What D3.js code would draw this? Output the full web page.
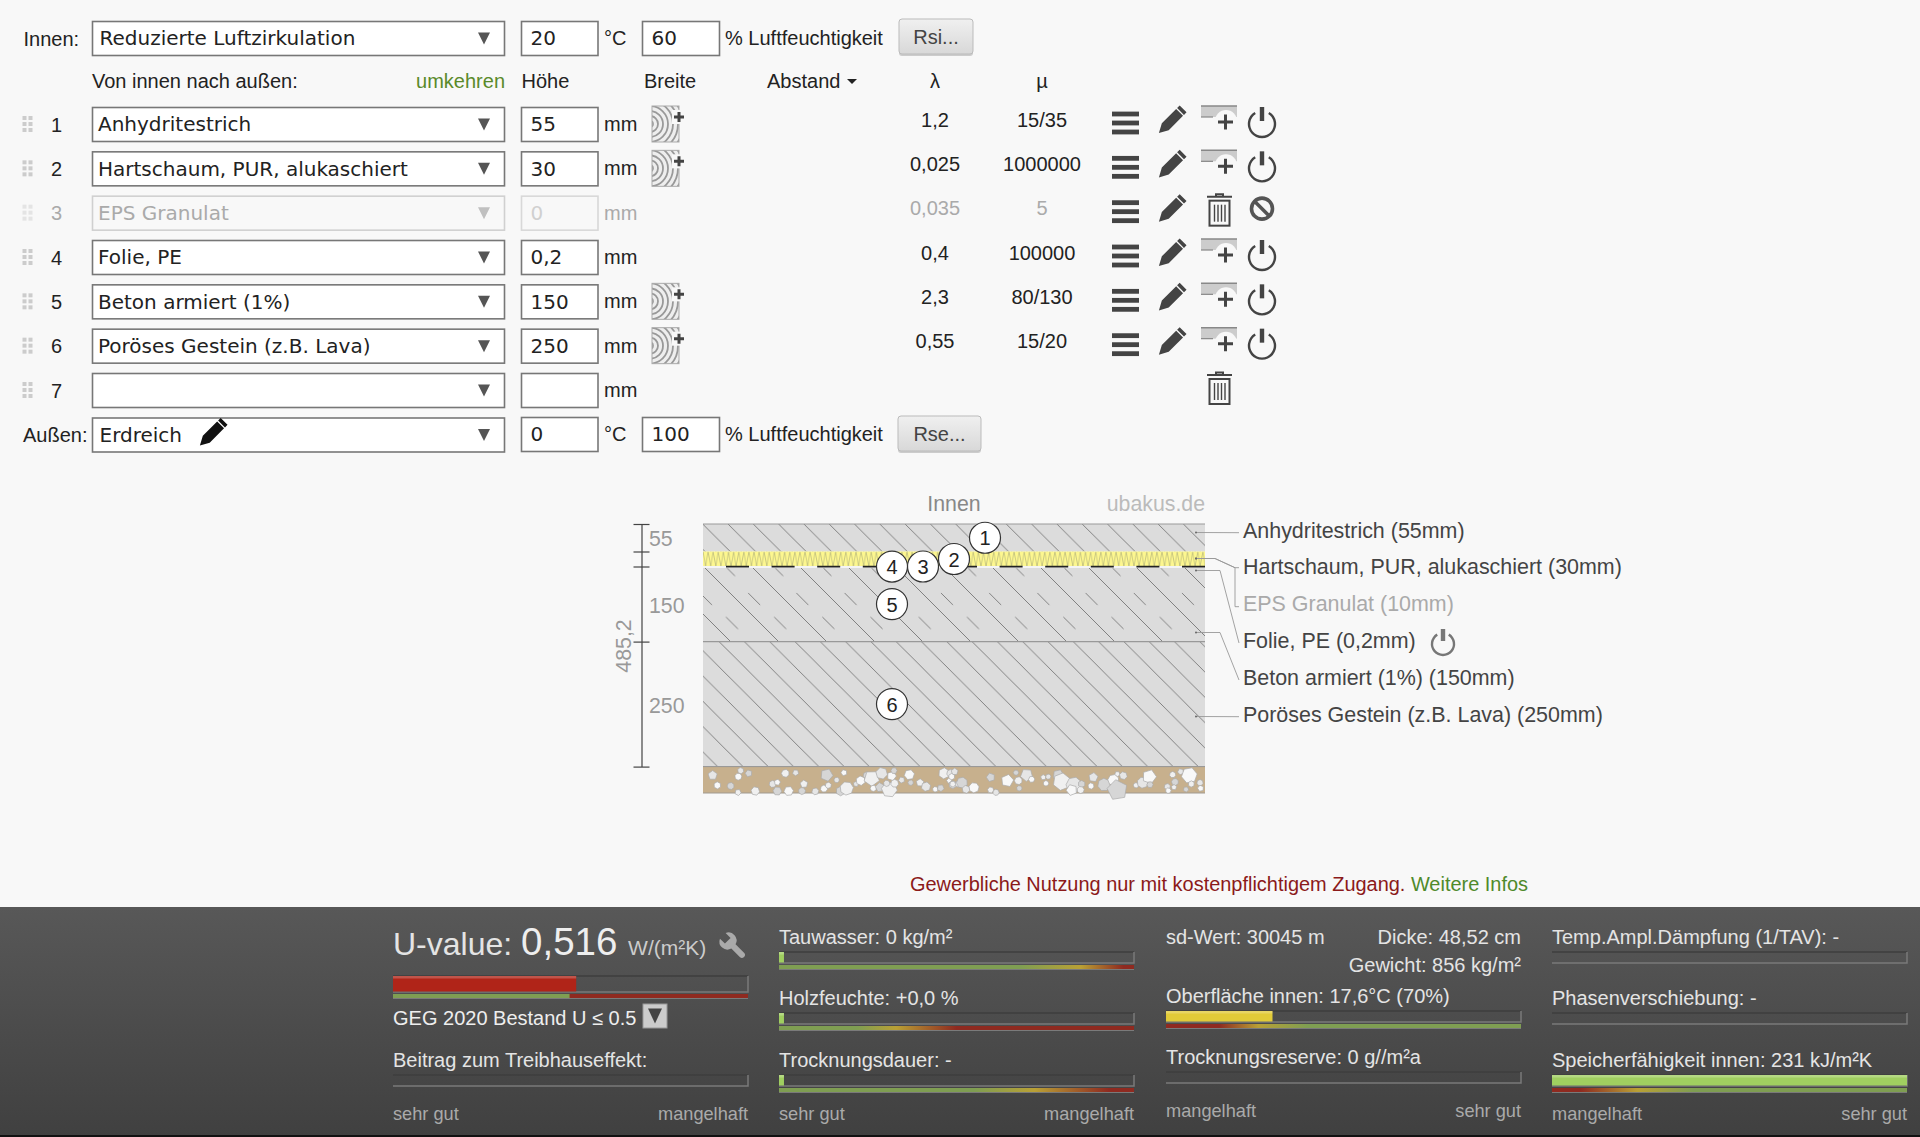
<!DOCTYPE html>
<html>
<head>
<meta charset="utf-8">
<script src="https://cdn.jsdelivr.net/npm/d3@7"></script>
<style>
body { margin: 0; background: #f8f8f8; }
text { font-family: "Liberation Sans", Arial, sans-serif; }
.sel { font-family: "DejaVu Sans", sans-serif; }
</style>
</head>
<body>
<div id="chart"></div>
<script>
// layer table
var layerNames = ["Anhydritestrich", "Hartschaum, PUR, alukaschiert", "EPS Granulat", "Folie, PE", "Beton armiert (1%)", "Poröses Gestein (z.B. Lava)", ""];
var layerInputs = ["55", "30", "0", "0,2", "150", "250", ""];
var layerLambda = ["1,2", "0,025", "0,035", "0,4", "2,3", "0,55", ""];
var layerMu = ["15/35", "1000000", "5", "100000", "80/130", "15/20", ""];
var layerDisabled = [false, false, true, false, false, false, false];
var layerHasTexture = [true, true, false, false, true, true, false];

// section drawing
var sectionMm = [55, 30, 0, 0.2, 150, 250];
var sectionTotal = 485.2;
var dimTicks = [0, 55, 85, 85.2, 235.2, 485.2];
var dimLabels = ["55", "150", "250"];
var dimLabelMm = [27.5, 160.2, 360.2];
var markerOffset = [1, 0, -1, -2, -2, -2];
var legendLabels = ["Anhydritestrich (55mm)", "Hartschaum, PUR, alukaschiert (30mm)", "EPS Granulat (10mm)", "Folie, PE (0,2mm)", "Beton armiert (1%) (150mm)", "Poröses Gestein (z.B. Lava) (250mm)"];
var leaderMm = [17, 69, 69, 93, 217, 385];
// gravel: [along, depth, size]
var gravelLeft = [[38,46,12],[52,76,9],[92,78,9],[114,97,8],[122,32,8],[115,50,9],[146,40,9],[166,93,11],[218,72,9],[232,67,8],[232,93,11],[256,40,10],[287,38,8],[266,93,12],[306,93,9],[312,72,10],[346,94,9],[372,86,9],[380,45,16],[385,76,8],[410,60,7],[432,38,8],[422,93,12],[440,85,17],[468,72,7],[482,62,12],[500,46,9],[515,55,20],[545,40,15],[520,85,8],[540,82,12],[568,88,20],[560,70,8],[575,48,12],[582,32,8],[584,70,10],[605,60,8],[628,44,13],[632,68,7],[660,68,10],[678,80,12],[706,88,7],[722,84,9],[732,40,14],[752,40,10],[748,62,7],[758,74,10],[775,72,8]];
var gravelRight = [[14,35,9],[5,50,8],[36,68,14],[8,72,8],[48,88,10],[72,83,13],[122,52,11],[122,90,8],[138,97,8],[172,62,16],[198,38,7],[205,62,10],[230,45,16],[245,58,8],[208,85,7],[280,52,7],[295,50,7],[288,70,7],[325,45,14],[335,65,22],[372,75,20],[365,90,14],[395,72,9],[392,90,9],[430,52,12],[423,78,8],[462,74,16],[502,42,7],[520,47,10],[490,60,14],[502,90,26],[558,76,7],[578,68,14],[598,50,18],[600,74,8],[668,44,8],[692,35,8],[718,46,20],[675,66,9],[672,82,7],[652,80,8],[655,92,7],[708,88,7],[724,72,8],[750,68,8],[752,85,8]];

// rating bars
var ratingValues = [0.516, null, 0.014, 0.014, 0.014, 0.30, null, null, null, 1.0];
var ratingColors = ["#b02418", null, "#a0cf60", "#a0cf60", "#a0cf60", "#e2cb38", null, null, null, "#a0cf60"];
var ratingStops = [
  [[0, "g"], [0.495, "g"], [0.5, "r"], [1, "r"]],
  null,
  [[0, "g"], [0.68, "g"], [0.85, "y"], [0.97, "r"], [1, "r"]],
  [[0, "g"], [0.22, "g"], [0.33, "y"], [0.5, "r"], [1, "r"]],
  [[0, "g"], [0.55, "g"], [0.72, "y"], [0.93, "r"], [1, "r"]],
  [[0, "r"], [0.15, "r"], [0.26, "y"], [0.4, "g"], [1, "g"]],
  null,
  null,
  null,
  [[0, "r"], [0.08, "r"], [0.24, "y"], [0.4, "g"], [1, "g"]]
];
var ratingLabels = ["", "Beitrag zum Treibhauseffekt:", "Tauwasser: 0 kg/m²", "Holzfeuchte: +0,0 %", "Trocknungsdauer: -", "Oberfläche innen: 17,6°C (70%)", "Trocknungsreserve: 0 g//m²a", "Temp.Ampl.Dämpfung (1/TAV): -", "Phasenverschiebung: -", "Speicherfähigkeit innen: 231 kJ/m²K"];
var ratingCol = [0, 0, 1, 1, 1, 2, 2, 3, 3, 3];
var ratingTop = [976, 1075, 952, 1013, 1075, 1011, 1072, 952, 1013, 1075];

var svg = d3.select("#chart").append("svg").attr("width", 1920).attr("height", 1137);
var defs = svg.append("defs");
svg.append("rect").attr("width", 1920).attr("height", 1137).attr("fill", "#f8f8f8");

var rowY = d3.scalePoint().domain(d3.range(7)).range([124, 390]);

function label(g, x, y, txt, size, color, anchor) {
  return g.append("text").attr("x", x).attr("y", y).attr("dy", "0.35em")
    .attr("font-size", size).attr("fill", color).attr("text-anchor", anchor || "start").text(txt);
}

function arrow(g, cx, cy, w, h, color) {
  g.append("path").attr("d", `M${cx - w / 2},${cy - h / 2}H${cx + w / 2}L${cx},${cy + h / 2}Z`).attr("fill", color);
}

function selectBox(g, y, txt, xText, off) {
  g.append("rect").attr("x", 92.5).attr("y", y - 16.5).attr("width", 412).attr("height", 34)
    .attr("fill", off ? "#f8f8f8" : "#fff").attr("stroke", off ? "#d0d0d0" : "#777").attr("stroke-width", 1.6);
  g.append("text").attr("class", "sel").attr("x", xText).attr("y", y).attr("dy", "0.37em")
    .attr("font-size", 20).attr("fill", off ? "#aaa" : "#222").text(txt);
  arrow(g, 484, y + 0.5, 12, 12, off ? "#c0c0c0" : "#555");
}

function inputBox(g, x, w, y, txt, off) {
  g.append("rect").attr("x", x).attr("y", y - 16.5).attr("width", w).attr("height", 34)
    .attr("fill", off ? "#f8f8f8" : "#fff").attr("stroke", off ? "#d8d8d8" : "#777").attr("stroke-width", 1.6);
  g.append("text").attr("class", "sel").attr("x", x + 9).attr("y", y).attr("dy", "0.37em")
    .attr("font-size", 20).attr("fill", off ? "#d0d0d0" : "#222").text(txt);
}

function button(g, x, y, w, h, txt) {
  g.append("rect").attr("x", x).attr("y", y + 2).attr("width", w).attr("height", h).attr("rx", 3).attr("fill", "#ccc");
  g.append("rect").attr("x", x).attr("y", y).attr("width", w).attr("height", h).attr("rx", 3)
    .attr("fill", "url(#btnGrad)").attr("stroke", "#bbb");
  label(g, x + w / 2, y + h / 2, txt, 20, "#444", "middle");
}

function hamburger(g, y) {
  [-9, 0, 9].forEach(function(d) {
    g.append("rect").attr("x", 1112).attr("y", y + d - 2.4).attr("width", 27).attr("height", 4.8).attr("fill", "#444");
  });
}

function pencil(g, x, y, color, k) {
  g.append("path")
    .attr("transform", `translate(${x},${y}) rotate(45) scale(${k * 1.2},${k})`)
    .attr("d", "M-4.5,-19 h9 v4 h-9z M-4.5,-13.5 h9 V9 L0,19 L-4.5,9z")
    .attr("fill", color);
}

function power(g, cx, cy, r, color) {
  g.append("path")
    .attr("d", d3.arc()({ innerRadius: r - 1.2, outerRadius: r + 1.2, startAngle: 0.55, endAngle: 2 * Math.PI - 0.55 }))
    .attr("transform", `translate(${cx},${cy})`).attr("fill", color);
  g.append("rect").attr("x", cx - 2.2).attr("y", cy - r - 4).attr("width", 4.4).attr("height", r + 1).attr("fill", color);
}

function addLayer(g, y) {
  g.append("rect").attr("x", 1201).attr("y", y - 18).attr("width", 36).attr("height", 11).attr("fill", "#ccc");
  g.append("line").attr("x1", 1201).attr("x2", 1237).attr("y1", y - 18).attr("y2", y - 18).attr("stroke", "#888").attr("stroke-width", 1.5);
  g.append("line").attr("x1", 1201).attr("x2", 1213).attr("y1", y - 7).attr("y2", y - 7).attr("stroke", "#888").attr("stroke-width", 1.2);
  g.append("circle").attr("cx", 1226).attr("cy", y - 3).attr("r", 11).attr("fill", "#f8f8f8");
  g.append("path").attr("d", `M1218,${y - 2}h15M1225.5,${y - 9.5}v15`).attr("stroke", "#444").attr("stroke-width", 3).attr("fill", "none");
}

function trash(g, y) {
  g.append("path").attr("d", `M1207,${y - 13}h25M1216,${y - 13}v-2.5h7v2.5`).attr("stroke", "#444").attr("stroke-width", 2).attr("fill", "none");
  g.append("rect").attr("x", 1209.5).attr("y", y - 9).attr("width", 20).attr("height", 25).attr("fill", "none").attr("stroke", "#444").attr("stroke-width", 2);
  [1214.5, 1218, 1221.5, 1225].forEach(function(x) {
    g.append("line").attr("x1", x).attr("x2", x).attr("y1", y - 5).attr("y2", y + 12).attr("stroke", "#444").attr("stroke-width", 1.4);
  });
}

function forbid(g, y) {
  g.append("circle").attr("cx", 1262).attr("cy", y - 4).attr("r", 10.5).attr("fill", "none").attr("stroke", "#555").attr("stroke-width", 3.6);
  g.append("line").attr("x1", 1254.5).attr("y1", y - 11.5).attr("x2", 1269.5).attr("y2", y + 3.5).attr("stroke", "#555").attr("stroke-width", 3.6);
}

function texture(g, y, i) {
  var clip = "texClip" + i;
  defs.append("clipPath").attr("id", clip).append("rect").attr("x", 652).attr("y", y - 18).attr("width", 27).attr("height", 36);
  var t = g.append("g").attr("clip-path", `url(#${clip})`);
  t.append("rect").attr("x", 652).attr("y", y - 18).attr("width", 27).attr("height", 36).attr("fill", "#eee");
  [3, 8, 13, 18, 23, 28, 33].forEach(function(r) {
    t.append("circle").attr("cx", 650).attr("cy", y).attr("r", r).attr("fill", "none").attr("stroke", "#999").attr("stroke-width", 1.8);
  });
  g.append("rect").attr("x", 652).attr("y", y - 18).attr("width", 27).attr("height", 36).attr("fill", "none").attr("stroke", "#aaa");
  g.append("rect").attr("x", 672).attr("y", y - 14).attr("width", 14).attr("height", 14).attr("fill", "#f8f8f8");
  g.append("path").attr("d", `M674,${y - 7}h10M679,${y - 12}v10`).attr("stroke", "#444").attr("stroke-width", 3);
}

var form = svg.append("g");
defs.append("linearGradient").attr("id", "btnGrad").attr("x2", 0).attr("y2", 1)
  .selectAll("stop").data([["0%", "#f0f0f0"], ["100%", "#d8d8d8"]]).join("stop")
  .attr("offset", d => d[0]).attr("stop-color", d => d[1]);

// Innen row
label(form, 23.5, 38.5, "Innen:", 20, "#222");
selectBox(form, 38, "Reduzierte Luftzirkulation", 99.5);
inputBox(form, 521.5, 76.5, 38, "20");
label(form, 604, 37.5, "°C", 20, "#222");
inputBox(form, 642.5, 77, 38, "60");
label(form, 725, 38, "% Luftfeuchtigkeit", 20, "#222");
button(form, 899, 19, 74, 35, "Rsi...");

// header row
var headerY = 81;
label(form, 92, headerY, "Von innen nach außen:", 20, "#222");
label(form, 505, headerY, "umkehren", 20, "#5a8a2a", "end");
label(form, 521.5, headerY, "Höhe", 20, "#222");
label(form, 644, headerY, "Breite", 20, "#222");
label(form, 767, headerY, "Abstand", 20, "#222");
arrow(form, 852, 81.5, 10, 5, "#222");
label(form, 935, headerY, "λ", 20, "#222", "middle");
label(form, 1042, headerY, "µ", 20, "#222", "middle");

// layer rows
layerNames.forEach(function(name, i) {
  var y = rowY(i);
  var off = layerDisabled[i];
  var g = form.append("g");
  var dots = off ? "#e4e4e4" : "#ccc";
  [24.5, 30.5].forEach(function(x) {
    [-6, 0, 6].forEach(function(d) {
      g.append("rect").attr("x", x - 2).attr("y", y + d - 2).attr("width", 4).attr("height", 4).attr("fill", dots);
    });
  });
  label(g, 51, y + 0.5, String(i + 1), 20, off ? "#aaa" : "#222");
  selectBox(g, y, name, 98, off);
  inputBox(g, 521.5, 76.5, y, layerInputs[i], off);
  label(g, 604, y, "mm", 20, off ? "#aaa" : "#222");
  if (layerHasTexture[i]) texture(g, y, i);
  if (name === "") {
    trash(g, y - 2);
    return;
  }
  label(g, 935, y - 4.5, layerLambda[i], 20, off ? "#aaa" : "#222", "middle");
  label(g, 1042, y - 4.5, layerMu[i], 20, off ? "#aaa" : "#222", "middle");
  hamburger(g, y - 1);
  pencil(g, 1171, y - 3, "#444", 0.9);
  if (off) {
    trash(g, y - 3);
    forbid(g, y);
  } else {
    addLayer(g, y);
    power(g, 1262, y, 13, "#444");
  }
});

// Aussen row
label(form, 23, 434.5, "Außen:", 20, "#222");
selectBox(form, 434.5, "Erdreich", 99.5);
pencil(form, 212, 433.5, "#111", 0.9);
inputBox(form, 521.5, 76.5, 434, "0");
label(form, 604, 433.5, "°C", 20, "#222");
inputBox(form, 642.5, 77, 434, "100");
label(form, 725, 434, "% Luftfeuchtigkeit", 20, "#222");
button(form, 898, 416, 83, 35, "Rse...");

// section drawing
var y = d3.scaleLinear().domain([0, sectionTotal]).range([524, 766.6]);
var xLeft = 703, xRight = 1205, xMid = (xLeft + xRight) / 2;
var section = svg.append("g");

var hatch = defs.append("pattern").attr("id", "hatch").attr("patternUnits", "userSpaceOnUse")
  .attr("width", 25.3).attr("height", 25.3).attr("patternTransform", "translate(728,524)");
hatch.append("path").attr("d", "M-1,-1L26.3,26.3").attr("stroke", "#777").attr("stroke-width", 0.9);

var concrete = defs.append("pattern").attr("id", "concrete").attr("patternUnits", "userSpaceOnUse")
  .attr("width", 48).attr("height", 48).attr("patternTransform", "translate(703,566)");
concrete.append("path").attr("d", "M-1,-1L49,49").attr("stroke", "#777").attr("stroke-width", 0.9);

var concreteDash = defs.append("pattern").attr("id", "concreteDash").attr("patternUnits", "userSpaceOnUse")
  .attr("width", 48.2).attr("height", 75).attr("patternTransform", "translate(703,566)");
concreteDash.append("path").attr("d", "M24,2L32,10M-3,27L9,39M45.2,27L57.2,39M23,51L35,63")
  .attr("stroke", "#777").attr("stroke-width", 0.9);

var foam = defs.append("pattern").attr("id", "foam").attr("patternUnits", "userSpaceOnUse")
  .attr("width", 5.1).attr("height", 15).attr("patternTransform", "translate(703,551.5)");
foam.append("path").attr("d", "M0,0L2.55,15L5.1,0").attr("stroke", "#b4b47c").attr("stroke-width", 0.7).attr("fill", "none");

function band(mm0, mm1, fill) {
  section.append("rect").attr("x", xLeft).attr("width", xRight - xLeft)
    .attr("y", y(mm0)).attr("height", y(mm1) - y(mm0)).attr("fill", fill);
}

var tops = d3.cumsum(sectionMm);
band(0, tops[0], "#dcdcdc");
band(0, tops[0], "url(#hatch)");
band(tops[0], tops[1], "#fdf78f");
band(tops[0], tops[1], "url(#foam)");
band(tops[3], tops[4], "#dcdcdc");
band(tops[3], tops[4], "url(#concrete)");
band(tops[3], tops[4], "url(#concreteDash)");
band(tops[4], tops[5], "#dcdcdc");
band(tops[4], tops[5], "url(#hatch)");

// layer borders
[0, tops[4], tops[5]].forEach(function(mm) {
  section.append("line").attr("x1", xLeft).attr("x2", xRight).attr("y1", y(mm)).attr("y2", y(mm))
    .attr("stroke", "#999").attr("stroke-width", 1.2);
});

// foil
section.append("line").attr("x1", xLeft).attr("x2", xRight).attr("y1", y(tops[3]) + 0.5).attr("y2", y(tops[3]) + 0.5)
  .attr("stroke", "#f4f4f4").attr("stroke-width", 2);
section.append("line").attr("x1", 726).attr("x2", xRight).attr("y1", y(tops[3])).attr("y2", y(tops[3]))
  .attr("stroke", "#222").attr("stroke-width", 1.6).attr("stroke-dasharray", "23 22.6");

// ground
var groundTop = y(sectionTotal);
section.append("rect").attr("x", xLeft).attr("y", groundTop).attr("width", xRight - xLeft).attr("height", 26.4).attr("fill", "#c7b08d");
section.append("line").attr("x1", xLeft).attr("x2", xRight).attr("y1", groundTop + 26.4).attr("y2", groundTop + 26.4).attr("stroke", "#a09a90");
section.append("line").attr("x1", xLeft).attr("x2", xRight).attr("y1", groundTop).attr("y2", groundTop).attr("stroke", "#999");

var gx1 = d3.scaleLinear().domain([0, 780]).range([700, 960]);
var gx2 = d3.scaleLinear().domain([0, 780]).range([950, 1210]);
var gy = d3.scaleLinear().domain([0, 120]).range([760, 800]);
var gravelFill = ["#e6e6e6", "#f8f8f8", "#d6d6d6", "#f0f0f0"];
function gravel(list, gx) {
  section.selectAll(null).data(list).join("path")
    .attr("d", function(d, i) {
      var n = 5 + i % 3;
      var pts = d3.range(n).map(function(k) { return [k / n * 2 * Math.PI + i, d[2] / 2.5]; });
      return d3.lineRadial().curve(d3.curveLinearClosed)(pts);
    })
    .attr("transform", d => `translate(${Math.min(gx(d[0]), xRight - 3)},${gy(d[1])})`)
    .attr("fill", (d, i) => gravelFill[i % 4])
    .attr("stroke", "#aaa").attr("stroke-width", 0.7);
}
gravel(gravelLeft, gx1);
gravel(gravelRight, gx2);

// dimension axis
var dimAxis = d3.axisLeft(y).tickValues(dimTicks).tickFormat("").tickSize(0);
var dimG = section.append("g").attr("transform", "translate(641.5,0)").call(dimAxis);
dimG.select(".domain").attr("stroke", "#444").attr("stroke-width", 1.2);
dimG.selectAll(".tick line").attr("x1", -8).attr("x2", 8).attr("stroke", "#444").attr("stroke-width", 1.2);
dimG.selectAll(".tick").filter(d => d === 85.2).remove();
dimLabels.forEach(function(txt, i) {
  label(section, 649, y(dimLabelMm[i]) + 1, txt, 21.3, "#999");
});
section.append("text").attr("transform", "translate(624,646) rotate(-90)").attr("dy", "0.35em")
  .attr("text-anchor", "middle").attr("font-size", 21.3).attr("fill", "#999").text("485,2");
label(section, 954, 504, "Innen", 21.3, "#888", "middle");
label(section, 1205, 504, "ubakus.de", 21.3, "#bbb", "end");

// leaders and legend
var legendY = d3.scalePoint().domain(d3.range(6)).range([530, 714]);
var leaderElbow = [null, [1215, 1235], [1215, 1235], [1220, 1239], [1220, 1239], null];
var leaderEnd = [532.7, 567.7, 606.7, 643, 680, 716.7];
legendLabels.forEach(function(txt, i) {
  var y0 = y(leaderMm[i]);
  var pts = [[1196, y0]];
  if (leaderElbow[i]) {
    pts.push([leaderElbow[i][0], y0]);
    if (i === 1 || i === 2) {
      pts.push([1235, 567.7]);
      pts.push(i === 1 ? [1239, 567.7] : [1235, 606.7]);
      if (i === 2) pts.push([1239, 606.7]);
    } else {
      pts.push([1239, leaderEnd[i]]);
    }
  } else {
    pts.push([1239, leaderEnd[i]]);
  }
  section.append("path").attr("d", d3.line()(pts)).attr("fill", "none").attr("stroke", "#999").attr("stroke-width", 0.9);
  section.append("circle").attr("cx", 1196).attr("cy", y0).attr("r", 1).attr("fill", "#666");
  label(section, 1243, legendY(i), txt, 21.45, layerDisabled[i] ? "#aaa" : "#444");
});
power(section, 1443, 644, 11, "#777");

// numbered markers
markerOffset.forEach(function(k, i) {
  var my = y(tops[i] - sectionMm[i] / 2);
  var mx = xMid + k * 31;
  section.append("circle").attr("cx", mx).attr("cy", my).attr("r", 15.5).attr("fill", "#fff").attr("stroke", "#333").attr("stroke-width", 1.2);
  label(section, mx, my + 0.5, String(i + 1), 20, "#222", "middle");
});

// commercial note
var note = svg.append("text").attr("x", 910).attr("y", 884).attr("dy", "0.35em").attr("font-size", 19.95);
note.append("tspan").attr("fill", "#8b1a1a").text("Gewerbliche Nutzung nur mit kostenpflichtigem Zugang. ");
note.append("tspan").attr("fill", "#4f8a2b").text("Weitere Infos");

// bottom panel
defs.append("linearGradient").attr("id", "panelGrad").attr("x2", 0).attr("y2", 1)
  .selectAll("stop").data([["0%", "#585858"], ["100%", "#404040"]]).join("stop")
  .attr("offset", d => d[0]).attr("stop-color", d => d[1]);
var panel = svg.append("g");
panel.append("rect").attr("y", 907).attr("width", 1920).attr("height", 230).attr("fill", "url(#panelGrad)");
panel.append("rect").attr("y", 1135).attr("width", 1920).attr("height", 2).attr("fill", "#111");

var colLeft = [393, 779, 1166, 1552];
var stripColor = { g: "#7f9e52", y: "#b9a035", r: "#8f2a20" };
var textColor = "#e4e4e4", hintColor = "#aaa";

ratingValues.forEach(function(v, i) {
  var x0 = colLeft[ratingCol[i]];
  var xs = d3.scaleLinear().domain([0, 1]).range([x0, x0 + 355]);
  var top = ratingTop[i];
  var h = i === 0 ? 16 : 11;
  if (ratingLabels[i]) label(panel, x0, top - 15, ratingLabels[i], 20, textColor);
  // groove
  panel.append("path").attr("d", `M${xs(0)},${top}H${xs(1)}`).attr("stroke", "#3e3e3e").attr("stroke-width", 1.5);
  panel.append("path").attr("d", `M${xs(0)},${top + h}H${xs(1)}V${top}`).attr("fill", "none").attr("stroke", "#7a7a7a").attr("stroke-width", 1.5);
  if (v !== null) {
    panel.append("rect").attr("x", xs(0)).attr("y", top).attr("width", xs(v) - xs(0)).attr("height", h - 0.5).attr("fill", ratingColors[i]);
    panel.append("rect").attr("x", xs(0)).attr("y", top).attr("width", xs(v) - xs(0)).attr("height", 2.5).attr("fill", "#fff").attr("fill-opacity", 0.22);
  }
  if (ratingStops[i]) {
    var id = "strip" + i;
    defs.append("linearGradient").attr("id", id)
      .selectAll("stop").data(ratingStops[i]).join("stop")
      .attr("offset", d => d[0]).attr("stop-color", d => stripColor[d[1]]);
    panel.append("rect").attr("x", xs(0)).attr("y", top + h + 2).attr("width", xs(1) - xs(0)).attr("height", 4).attr("fill", `url(#${id})`);
    panel.append("line").attr("x1", xs(0)).attr("x2", xs(1)).attr("y1", top + h + 6.5).attr("y2", top + h + 6.5).attr("stroke", "#7a7a7a");
  }
});

// U value heading
var u = panel.append("text").attr("x", 393).attr("y", 955).attr("fill", textColor);
u.append("tspan").attr("font-size", 32).text("U-value: ");
u.append("tspan").attr("font-size", 38.5).attr("fill", "#eee").text("0,516 ");
u.append("tspan").attr("font-size", 21).attr("fill", "#ccc").text("W/(m²K)");
// wrench
panel.append("path").attr("transform", "translate(732,945) rotate(-45)")
  .attr("d", "M-4,-13 L-4,-6 L4,-6 L4,-13 A8,8 0 0,1 3,2 L3,14 A3,3 0 0,1 -3,14 L-3,2 A8,8 0 0,1 -4,-13Z")
  .attr("fill", "#aaa");

label(panel, 393, 1018, "GEG 2020 Bestand U ≤ 0.5", 20, "#eee");
panel.append("rect").attr("x", 643).attr("y", 1004).attr("width", 24).attr("height", 24).attr("fill", "#ccc").attr("stroke", "#999");
arrow(panel, 655, 1016, 14, 15, "#444");

label(panel, 1166, 937, "sd-Wert: 30045 m", 20, textColor);
label(panel, 1521, 937, "Dicke: 48,52 cm", 20, textColor, "end");
label(panel, 1521, 965, "Gewicht: 856 kg/m²", 20, textColor, "end");

// scale ends
[[393, 748, "sehr gut", "mangelhaft", 1114], [779, 1134, "sehr gut", "mangelhaft", 1114],
 [1166, 1521, "mangelhaft", "sehr gut", 1111], [1552, 1907, "mangelhaft", "sehr gut", 1114]].forEach(function(d) {
  label(panel, d[0], d[4], d[2], 18.2, hintColor);
  label(panel, d[1], d[4], d[3], 18.2, hintColor, "end");
});
</script>
</body>
</html>
